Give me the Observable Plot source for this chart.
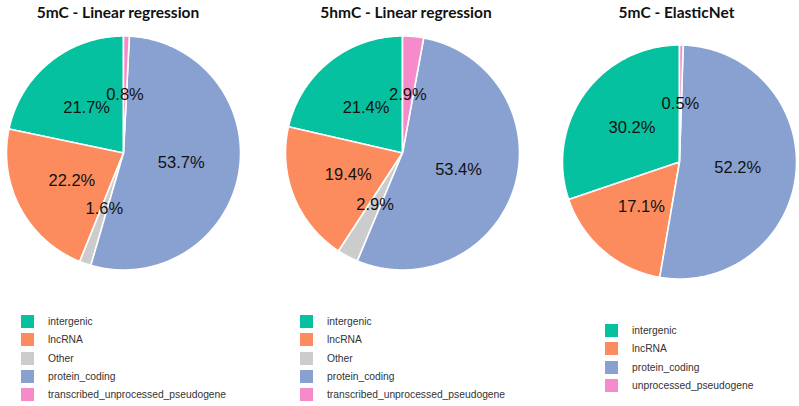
<!DOCTYPE html>
<html>
<head>
<meta charset="utf-8">
<script src="https://cdn.jsdelivr.net/npm/d3@7"></script>
<script src="https://cdn.jsdelivr.net/npm/@observablehq/plot@0.6"></script>
<style>
  html, body { margin: 0; padding: 0; background: #fff; }
  body { width: 799px; height: 406px; position: relative; overflow: hidden; }
  .title { position: absolute; top: 3px; transform: translateX(-50%); white-space: nowrap;
           font-family: Lato, "Open Sans", sans-serif; font-weight: 700; font-size: 15.5px; color: #111; }
  .chart { position: absolute; top: 20px; }
  .legend { position: absolute; font-family: "Liberation Sans", Arial, sans-serif; font-size: 10.3px; color: #333; }
  .legend .row { display: flex; align-items: center; height: 18.2px; }
  .legend .sw { width: 13px; height: 13px; margin-right: 14px; flex: none; }
</style>
</head>
<body>
<script>
// ---- data ----
const titles = ["5mC - Linear regression", "5hmC - Linear regression", "5mC - ElasticNet"];

const categories1 = ["intergenic", "lncRNA", "Other", "protein_coding", "transcribed_unprocessed_pseudogene"];
const values1 = [21.7, 22.2, 1.6, 53.7, 0.8];

const categories2 = ["intergenic", "lncRNA", "Other", "protein_coding", "transcribed_unprocessed_pseudogene"];
const values2 = [21.4, 19.4, 2.9, 53.4, 2.9];

const categories3 = ["intergenic", "lncRNA", "protein_coding", "unprocessed_pseudogene"];
const values3 = [30.2, 17.1, 52.2, 0.5];

// ---- palette ----
const colorDomain = ["intergenic", "lncRNA", "Other", "protein_coding", "transcribed_unprocessed_pseudogene", "unprocessed_pseudogene"];
const colorRange = ["#06C19F", "#FC8C5E", "#CCCCCC", "#88A1D0", "#F58BCA", "#F58BCA"];

// ---- layout (pixels) ----
const R = 117;
const layout = [
  {cx: 122.5, cy: 152.5, titleX: 118, legX: 21, legY: 312.6, rowH: 18.2},
  {cx: 401.5, cy: 152.5, titleX: 406, legX: 300, legY: 312.6, rowH: 18.2},
  {cx: 678.5, cy: 161.5, titleX: 676.5, legX: 605, legY: 320.8, rowH: 18.5}
];
const svgTop = 20, svgW = 260, svgH = 280;

const datasets = [[categories1, values1], [categories2, values2], [categories3, values3]];

datasets.forEach(([cats, vals], i) => {
  const L = layout[i];
  const table = cats.map((c, j) => ({key: c, value: vals[j]}));
  // counter-clockwise from 12 o'clock
  const arcs = d3.pie().sort(null).value(d => d.value).startAngle(0).endAngle(-2 * Math.PI)(table);

  const pts = [];
  const labels = [];
  arcs.forEach(a => {
    const key = a.data.key;
    pts.push({key, x: 0, y: 0});
    const span = a.endAngle - a.startAngle;
    const n = Math.max(2, Math.ceil(Math.abs(span) / 0.01));
    for (let k = 0; k <= n; k++) {
      const t = a.startAngle + span * k / n;
      pts.push({key, x: Math.sin(t), y: Math.cos(t)});
    }
    pts.push({key, x: 0, y: 0});
    const mid = (a.startAngle + a.endAngle) / 2;
    labels.push({x: 0.5 * Math.sin(mid), y: 0.5 * Math.cos(mid), text: a.data.value.toFixed(1) + "%"});
  });

  const cxL = svgW / 2, cyL = L.cy - svgTop;
  const chart = Plot.plot({
    width: svgW,
    height: svgH,
    margin: 0,
    style: {fontFamily: "'Liberation Sans', Arial, sans-serif", background: "transparent", overflow: "visible"},
    x: {domain: [-1, 1], range: [cxL - R, cxL + R], axis: null},
    y: {domain: [-1, 1], range: [cyL + R, cyL - R], axis: null},
    color: {domain: colorDomain, range: colorRange},
    marks: [
      Plot.line(pts, {x: "x", y: "y", z: "key", fill: "key", stroke: "white", strokeWidth: 1.6, strokeLinejoin: "round"}),
      Plot.text(labels, {x: "x", y: "y", text: "text", fontSize: 16.5, fill: "#111"})
    ]
  });
  chart.classList.add("chart");
  chart.style.left = (L.cx - svgW / 2) + "px";
  chart.style.top = svgTop + "px";
  chart.style.position = "absolute";
  document.body.appendChild(chart);

  const title = document.createElement("div");
  title.className = "title";
  title.style.left = L.titleX + "px";
  title.textContent = titles[i];
  document.body.appendChild(title);

  const leg = document.createElement("div");
  leg.className = "legend";
  leg.style.left = L.legX + "px";
  leg.style.top = L.legY + "px";
  cats.forEach(c => {
    const row = document.createElement("div");
    row.className = "row";
    row.style.height = L.rowH + "px";
    const sw = document.createElement("span");
    sw.className = "sw";
    sw.style.background = colorRange[colorDomain.indexOf(c)];
    const tx = document.createElement("span");
    tx.textContent = c;
    row.appendChild(sw);
    row.appendChild(tx);
    leg.appendChild(row);
  });
  document.body.appendChild(leg);
});
</script>
</body>
</html>
